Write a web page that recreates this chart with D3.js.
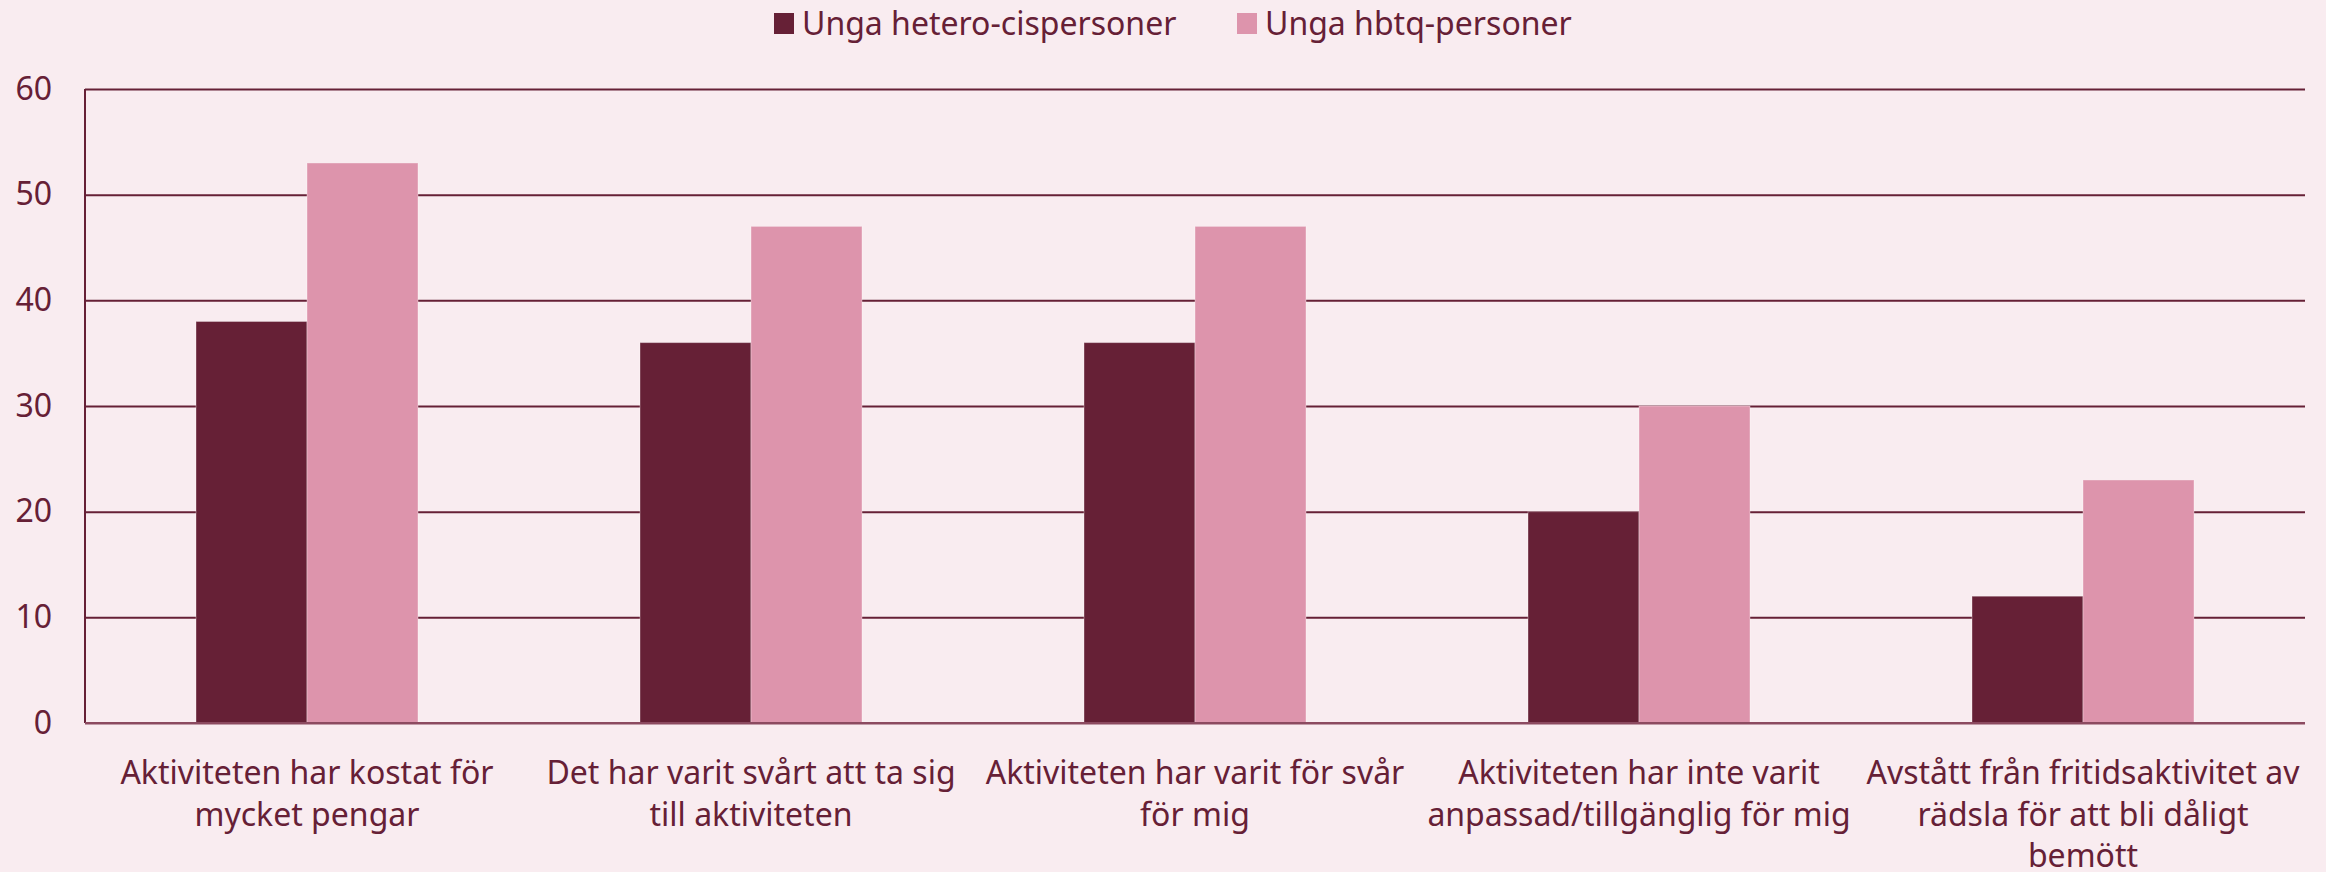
<!DOCTYPE html>
<html><head><meta charset="utf-8">
<script src="https://cdn.jsdelivr.net/npm/d3@7"></script>
<style>
html,body{margin:0;padding:0;background:#f9ecf0;}
svg{display:block;font-family:"Noto Sans",sans-serif;}
</style></head>
<body><svg id="chart" width="2326" height="872"></svg>
<script>
const categories = [
  "Aktiviteten har kostat för\nmycket pengar",
  "Det har varit svårt att ta sig\ntill aktiviteten",
  "Aktiviteten har varit för svår\nför mig",
  "Aktiviteten har inte varit\nanpassad/tillgänglig för mig",
  "Avstått från fritidsaktivitet av\nrädsla för att bli dåligt\nbemött"
];
const seriesNames = ["Unga hetero-cispersoner", "Unga hbtq-personer"];
const heteroValues = [38, 36, 36, 20, 12];
const hbtqValues = [53, 47, 47, 30, 23];
const yTicks = [0, 10, 20, 30, 40, 50, 60];
const colors = ["#662036", "#dd94ac"];

const svg = d3.select("#chart");
const W = 2326, H = 872;
const m = {left: 85, right: 21, top: 89, bottom: 149};
const x0 = d3.scaleBand().domain(categories).range([m.left, W - m.right]).paddingInner(0.5).paddingOuter(0.25);
const x1 = d3.scaleBand().domain(seriesNames).range([0, x0.bandwidth()]);
const y = d3.scaleLinear().domain([0, 60]).range([H - m.bottom, m.top]);
const textColor = "#662036";
const fs = 32;

svg.append("rect").attr("width", W).attr("height", H).attr("fill", "#f9ecf0");

// gridlines
const yAxis = d3.axisLeft(y).tickValues(yTicks).tickSize(-(W - m.left - m.right)).tickPadding(33);
const ga = svg.append("g").attr("transform", `translate(${m.left},0)`).call(yAxis);
ga.select(".domain").remove();
ga.selectAll(".tick line").attr("stroke-width", 2)
  .attr("stroke", d => d === 0 ? "#8c4a60" : "#662036");
ga.selectAll(".tick text").attr("fill", textColor).attr("font-size", fs).attr("font-family", "Noto Sans");

// vertical axis line
svg.append("line").attr("x1", m.left).attr("x2", m.left).attr("y1", y(60)).attr("y2", y(0))
  .attr("stroke", "#662036").attr("stroke-width", 2);

const data = categories.map((c, i) => ({c, vals: [heteroValues[i], hbtqValues[i]]}));
const groups = svg.append("g").selectAll("g").data(data).join("g")
  .attr("transform", d => `translate(${x0(d.c)},0)`);
groups.selectAll("rect").data(d => d.vals.map((v, j) => ({v, s: seriesNames[j], j})))
  .join("rect")
  .attr("x", d => x1(d.s)).attr("width", x1.bandwidth())
  .attr("y", d => y(d.v)).attr("height", d => y(0) - y(d.v))
  .attr("fill", d => colors[d.j])
  .attr("stroke", "rgba(255,255,255,0.35)").attr("stroke-width", 1);

// zero line above bars
svg.append("line").attr("x1", m.left).attr("x2", W - m.right).attr("y1", y(0)).attr("y2", y(0))
  .attr("stroke", "#8c4a60").attr("stroke-width", 2);

// category labels
categories.forEach(c => {
  const cx = x0(c) + x0.bandwidth() / 2;
  const t = svg.append("text").attr("x", cx).attr("y", 784)
    .attr("text-anchor", "middle").attr("fill", textColor).attr("font-size", fs);
  c.split("\n").forEach((ln, k) => {
    t.append("tspan").attr("x", cx).attr("dy", k === 0 ? 0 : 41.5).text(ln);
  });
});

// legend
const legend = svg.append("g");
const legItems = [{name: seriesNames[0], x: 774}, {name: seriesNames[1], x: 1237}];
legItems.forEach((d, i) => {
  legend.append("rect").attr("x", d.x).attr("y", 13).attr("width", 20).attr("height", 21).attr("fill", colors[i]);
  legend.append("text").attr("x", d.x + 28).attr("y", 35).attr("fill", textColor).attr("font-size", fs).text(d.name);
});
</script></body></html>
